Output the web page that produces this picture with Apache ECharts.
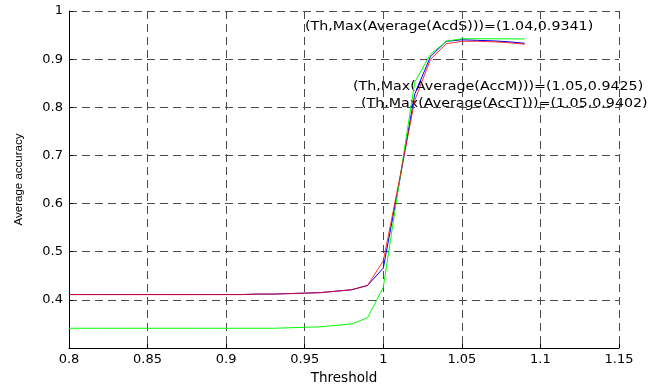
<!DOCTYPE html>
<html>
<head>
<meta charset="utf-8">
<script src="https://cdn.jsdelivr.net/npm/echarts@6/dist/echarts.min.js"></script>
<style>html,body{margin:0;padding:0;background:#fff}#c{width:665px;height:390px}</style>
</head>
<body>
<div id="c"></div>
<script>
var thresholds = [0.80,0.81,0.82,0.83,0.84,0.85,0.86,0.87,0.88,0.89,0.90,0.91,0.92,0.93,0.94,0.95,0.96,0.97,0.98,0.99,1.00,1.01,1.02,1.03,1.04,1.05,1.06,1.07,1.08,1.09];
var accS = [0.411,0.411,0.411,0.411,0.411,0.411,0.411,0.411,0.411,0.411,0.411,0.411,0.412,0.412,0.413,0.414,0.415,0.418,0.421,0.430,0.481,0.645,0.814,0.899,0.932,0.937,0.937,0.936,0.934,0.931];
var accT = [0.411,0.411,0.411,0.411,0.411,0.411,0.411,0.411,0.411,0.411,0.411,0.411,0.412,0.412,0.413,0.414,0.415,0.418,0.421,0.430,0.466,0.640,0.827,0.905,0.937,0.9402,0.939,0.938,0.936,0.933];
var accM = [0.341,0.341,0.341,0.341,0.341,0.341,0.341,0.341,0.341,0.341,0.341,0.341,0.341,0.341,0.342,0.343,0.344,0.347,0.350,0.363,0.426,0.640,0.852,0.910,0.937,0.9425,0.9423,0.9422,0.9421,0.942];
var annotations = [
  "(Th,Max(Average(AcdS)))=(1.04,0.9341)",
  "(Th,Max(Average(AccM)))=(1.05,0.9425)",
  "(Th,Max(Average(AccT)))=(1.05,0.9402)"
];
var xName = "Threshold";
var yName = "Average accuracy";

function pairs(ys){ return thresholds.map(function(x,i){ return [x, ys[i]]; }); }

var chart = echarts.init(document.getElementById('c'), null, {renderer:'canvas'});
var gridDash = {color:'#4a4a4a', width:1, type:[8,5]};
var tickFont = {color:'#000', fontFamily:'DejaVu Sans', fontSize:13};
chart.setOption({
  animation:false,
  backgroundColor:'#fff',
  grid:{left:69, right:46, top:11, bottom:38, containLabel:false},
  xAxis:{
    type:'value', min:0.8, max:1.15, interval:0.05,
    name:xName, nameLocation:'middle', nameGap:23,
    nameTextStyle:{color:'#000', fontFamily:'DejaVu Sans', fontSize:13.5},
    axisLine:{show:true, onZero:false, lineStyle:{color:'#000', width:1}},
    axisTick:{show:true, inside:true, length:4, lineStyle:{color:'#000'}},
    axisLabel:Object.assign({margin:5}, tickFont),
    splitLine:{show:true, lineStyle:gridDash}
  },
  yAxis:{
    type:'value', min:0.3, max:1, interval:0.1,
    name:yName, nameLocation:'middle', nameGap:44, nameRotate:90,
    nameTextStyle:{color:'#000', fontFamily:'Liberation Sans', fontSize:11.5},
    axisLine:{show:true, onZero:false, lineStyle:{color:'#000', width:1}},
    axisTick:{show:true, inside:true, length:4, lineStyle:{color:'#000'}},
    axisLabel:Object.assign({margin:6, showMinLabel:false}, tickFont),
    splitLine:{show:true, lineStyle:gridDash}
  },
  series:[
    {type:'line', name:'AccT', data:pairs(accT), showSymbol:false, lineStyle:{color:'#0000ff', width:1}, itemStyle:{color:'#0000ff'}},
    {type:'line', name:'AccM', data:pairs(accM), showSymbol:false, lineStyle:{color:'#00ff00', width:1}, itemStyle:{color:'#00ff00'}},
    {type:'line', name:'AcdS', data:pairs(accS), showSymbol:false, lineStyle:{color:'#ff0000', width:1, opacity:0.8}, itemStyle:{color:'#ff0000'}}
  ],
  graphic:[
    {type:'text', x:305, y:27, scaleX:1.14, style:{text:annotations[0], font:'12.5px "DejaVu Sans"', fill:'#000', verticalAlign:'middle', align:'left'}},
    {type:'text', x:353, y:86.5, scaleX:1.14, style:{text:annotations[1], font:'12.5px "DejaVu Sans"', fill:'#000', verticalAlign:'middle', align:'left'}},
    {type:'text', x:361, y:103.5, scaleX:1.14, style:{text:annotations[2], font:'12.5px "DejaVu Sans"', fill:'#000', verticalAlign:'middle', align:'left'}}
  ]
});
</script>
</body>
</html>
